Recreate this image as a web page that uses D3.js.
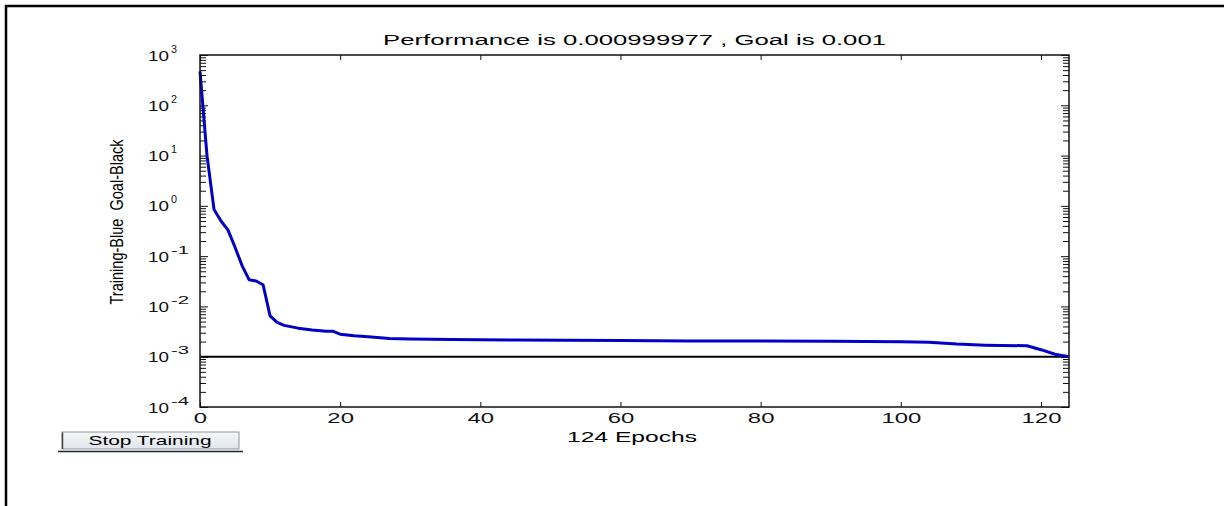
<!DOCTYPE html>
<html>
<head>
<meta charset="utf-8">
<script src="https://cdn.jsdelivr.net/npm/d3@7"></script>
<style>
  body { margin: 0; background: #fff; }
  svg { display: block; font-family: "Liberation Sans", Arial, sans-serif; }
</style>
</head>
<body>
<script>
// training record
const epochs = [0, 1, 2, 3, 4, 5, 6, 7, 8, 9, 10, 11, 12, 14, 16, 18, 19, 20, 22, 24, 27, 30, 36, 45, 52, 60, 70, 80, 90, 100, 104, 108, 112, 118, 120, 122, 124];
const perf = [470, 10, 0.85, 0.5, 0.33, 0.15, 0.065, 0.034, 0.032, 0.027, 0.0065, 0.0048, 0.0042, 0.0037, 0.0034, 0.0032, 0.0032, 0.0028, 0.0026, 0.0025, 0.0023, 0.00225, 0.0022, 0.00215, 0.00212, 0.0021, 0.00205, 0.00205, 0.00203, 0.00199, 0.00193, 0.00178, 0.0017, 0.00165, 0.00138, 0.00112, 0.000999977];
const goal = 0.001;
const xTicks = [0, 20, 40, 60, 80, 100, 120];
const yExponents = [-4, -3, -2, -1, 0, 1, 2, 3];

const titleText = "Performance is 0.000999977 , Goal is 0.001";
const xLabelText = "124 Epochs";
const yLabelText = "Training-Blue  Goal-Black";
const buttonText = "Stop Training";

const width = 1224, height = 506;
const svg = d3.select("body").append("svg")
  .attr("width", width).attr("height", height);

// outer frame (only top and left edges show)
svg.append("path")
  .attr("d", "M6,506 V6 H1224")
  .attr("fill", "none").attr("stroke", "#000").attr("stroke-width", 2.5);

const x = d3.scaleLinear().domain([0, 124]).range([200, 1069]);
const y = d3.scaleLog().domain([1e-4, 1e3]).range([407, 55]);

// minor log ticks 2..9 of every decade
const minor = [];
yExponents.slice(0, -1).forEach(e => {
  for (let k = 2; k <= 9; k++) minor.push(k * Math.pow(10, e));
});
const major = yExponents.map(e => Math.pow(10, e));

function clean(g) { g.select(".domain").remove(); g.selectAll(".tick line").attr("stroke", "#111"); }

svg.append("g").attr("transform", "translate(200,0)")
  .call(d3.axisLeft(y).tickValues(minor).tickSize(-6).tickFormat("")).call(clean);
svg.append("g").attr("transform", "translate(200,0)")
  .call(d3.axisLeft(y).tickValues(major).tickSize(-8).tickFormat("")).call(clean);
svg.append("g").attr("transform", "translate(1069,0)")
  .call(d3.axisRight(y).tickValues(minor).tickSize(-6).tickFormat("")).call(clean);
svg.append("g").attr("transform", "translate(1069,0)")
  .call(d3.axisRight(y).tickValues(major).tickSize(-8).tickFormat("")).call(clean);

svg.append("g").attr("transform", "translate(0,55)")
  .call(d3.axisTop(x).tickValues(xTicks).tickSize(-5).tickFormat("")).call(clean);

const xAxis = svg.append("g").attr("transform", "translate(0,407)")
  .call(d3.axisBottom(x).tickValues(xTicks).tickSize(-5).tickPadding(6).tickFormat(d3.format("d")))
  .call(clean);
xAxis.selectAll("text")
  .attr("fill", "#111")
  .style("font-size", "14px")
  .attr("textLength", d => String(d).length * 13.3)
  .attr("lengthAdjust", "spacingAndGlyphs");

// y tick labels: 10 with superscript exponent
const yl = svg.append("g").selectAll("g").data(yExponents).join("g")
  .attr("transform", e => `translate(148,${y(Math.pow(10, e))})`);
yl.append("text")
  .attr("y", 5.5)
  .style("font-size", "14px")
  .attr("fill", "#111")
  .attr("textLength", 21).attr("lengthAdjust", "spacingAndGlyphs")
  .text("10");
yl.append("text")
  .attr("x", 23).attr("y", -2.5)
  .style("font-size", "10px")
  .attr("fill", "#111")
  .attr("textLength", e => e < 0 ? 18 : 6).attr("lengthAdjust", "spacingAndGlyphs")
  .text(e => e < 0 ? "-" + Math.abs(e) : String(e));

// goal line
svg.append("line")
  .attr("x1", x(0)).attr("x2", x(124))
  .attr("y1", y(goal)).attr("y2", y(goal))
  .attr("stroke", "#000").attr("stroke-width", 2);

// training curve
const line = d3.line().x((d, i) => x(epochs[i])).y(d => y(d));
svg.append("path")
  .datum(perf)
  .attr("d", line)
  .attr("fill", "none")
  .attr("stroke", "#0000c8")
  .attr("stroke-width", 3)
  .attr("stroke-linejoin", "round");

// axes box
svg.append("rect")
  .attr("x", 200).attr("y", 55).attr("width", 869).attr("height", 352)
  .attr("fill", "none").attr("stroke", "#111").attr("stroke-width", 1.5);

// title and axis labels
svg.append("text")
  .attr("x", 634.5).attr("y", 45)
  .attr("text-anchor", "middle")
  .style("font-size", "14px")
  .attr("textLength", 503).attr("lengthAdjust", "spacingAndGlyphs")
  .text(titleText);

svg.append("text")
  .attr("x", 632).attr("y", 442)
  .attr("text-anchor", "middle")
  .style("font-size", "14px")
  .attr("textLength", 130).attr("lengthAdjust", "spacingAndGlyphs")
  .text(xLabelText);

svg.append("text")
  .attr("transform", "translate(117,222) scale(1.3,1) rotate(-90)")
  .attr("text-anchor", "middle")
  .attr("dy", "0.35em")
  .style("font-size", "14px")
  .style("white-space", "pre")
  .attr("textLength", 165).attr("lengthAdjust", "spacingAndGlyphs")
  .text(yLabelText);

// Stop Training button
const grad = svg.append("defs").append("linearGradient")
  .attr("id", "btn").attr("x1", 0).attr("x2", 0).attr("y1", 0).attr("y2", 1);
grad.append("stop").attr("offset", 0).attr("stop-color", "#f7f7f7");
grad.append("stop").attr("offset", 1).attr("stop-color", "#dfe5ec");

const btn = svg.append("g");
btn.append("rect")
  .attr("x", 62).attr("y", 432).attr("width", 177).attr("height", 17)
  .attr("fill", "url(#btn)").attr("stroke", "#8a96a3").attr("stroke-width", 1);
btn.append("path")
  .attr("d", "M62.5,449 V432.5").attr("stroke", "#444").attr("stroke-width", 1.5);
btn.append("path")
  .attr("d", "M58,451.5 H243").attr("stroke", "#222").attr("stroke-width", 1.5);
btn.append("text")
  .attr("x", 150).attr("y", 445)
  .attr("text-anchor", "middle")
  .style("font-size", "13px")
  .attr("textLength", 123).attr("lengthAdjust", "spacingAndGlyphs")
  .text(buttonText);
</script>
</body>
</html>
